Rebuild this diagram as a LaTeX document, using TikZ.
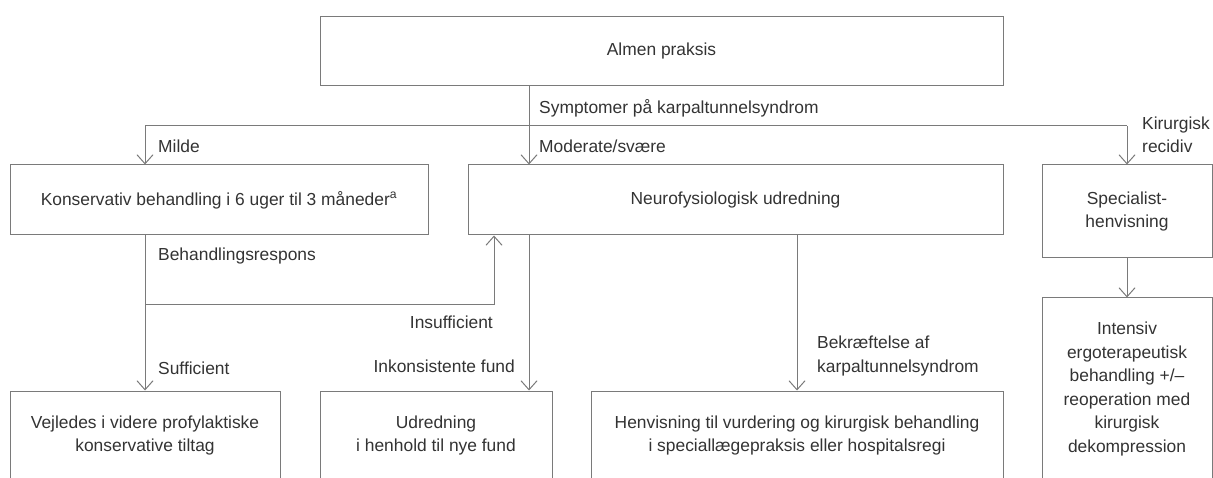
\documentclass[tikz,border=0pt]{standalone}
\usepackage{fontspec}
\setmainfont{Liberation Sans}
\usetikzlibrary{arrows.meta}
\definecolor{linegray}{HTML}{7A7A7A}
\definecolor{textgray}{HTML}{333333}
\tikzset{
  box/.style={draw=linegray, line width=1pt, inner sep=0pt, align=center},
  conn/.style={draw=linegray, line width=1pt},
  arr/.style={draw=linegray, line width=1pt, -{Straight Barb[length=9pt,width=16pt]}},
  lblw/.style={inner sep=0pt, anchor=base west},
  lble/.style={inner sep=0pt, anchor=base east},
}
\begin{document}
\begin{tikzpicture}[x=1pt, y=-1pt, font=\fontsize{17.4}{23.5}\selectfont, text=textgray]
\useasboundingbox (0,0) rectangle (1213,478);
\clip (0,0) rectangle (1213,478);

% boxes
\node[box, minimum width=683pt, minimum height=69pt] (almen) at (661.5,51.5) {Almen praksis};
\node[box, minimum width=418pt, minimum height=70pt] (kons) at (219,200) {Konservativ behandling i 6 uger til 3 måneder\textsuperscript{a}};
\node[box, minimum width=535pt, minimum height=70pt] (neuro) at (735.5,200) {Neurofysiologisk udredning};
\node[box, minimum width=170pt, minimum height=93pt] (spec) at (1127,211.5) {Specialist-\\henvisning};
\node[box, minimum width=270pt, minimum height=89pt] (vejl) at (145,435.5) {Vejledes i videre profylaktiske\\konservative tiltag};
\node[box, minimum width=232pt, minimum height=89pt] (udr) at (436,435.5) {Udredning\\i henhold til nye fund};
\node[box, minimum width=412pt, minimum height=89pt] (henv) at (797,435.5) {Henvisning til vurdering og kirurgisk behandling\\i speciallægepraksis eller hospitalsregi};
\node[box, minimum width=170pt, minimum height=182pt] (intens) at (1127,389) {Intensiv\\ergoterapeutisk\\behandling +/--\\reoperation med\\kirurgisk\\dekompression};

% helper coordinates
\coordinate (xa) at (529,0);
\coordinate (xi) at (494,0);
\coordinate (ys) at (0,126);
\coordinate (yb) at (0,305);

% connectors
\draw[arr] (almen.south -| xa) -- (neuro.north -| xa);
\draw[conn] (vejl.north |- ys) -- (spec.north |- ys);
\draw[arr] (vejl.north |- ys) -- (kons.north -| vejl.north);
\draw[arr] (spec.north |- ys) -- (spec.north);
\draw[arr] (kons.south -| vejl.north) -- (vejl.north);
\draw[arr] (vejl.north |- yb) -| (neuro.south -| xi);
\draw[arr] (neuro.south -| xa) -- (udr.north -| xa);
\draw[arr] (neuro.south -| henv.north) -- (henv.north);
\draw[arr] (spec.south) -- (intens.north);

% labels
\node[lblw] (lsymp) at (539,114) {Symptomer på karpaltunnelsyndrom};
\node[lblw] (lmilde) at (158,153) {Milde};
\node[lblw] (lmod) at (539,153) {Moderate/svære};
\node[inner sep=0pt, anchor=west, align=left] (lkir) at (1142,135) {Kirurgisk\\recidiv};
\node[lblw] (lbeh) at (158,261) {Behandlingsrespons};
\node[lble] (lins) at (493,329) {Insufficient};
\node[lblw] (lsuf) at (158,374) {Sufficient};
\node[lble] (link) at (515,373) {Inkonsistente fund};
\node[inner sep=0pt, anchor=west, align=left] (lbek) at (817,356) {Bekræftelse af\\karpaltunnelsyndrom};
\end{tikzpicture}
\end{document}
